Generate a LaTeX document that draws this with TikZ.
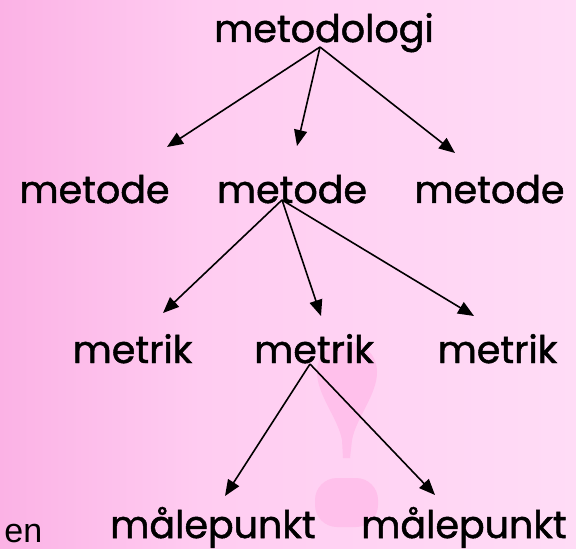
\documentclass[tikz,border=0pt]{standalone}
\usepackage{fontspec}
\setmainfont{Poppins}[FakeBold=1.3]
\newfontfamily\arialfont{Liberation Sans}
\usetikzlibrary{arrows.meta}
\definecolor{bgleft}{RGB}{251,178,229}
\definecolor{bgmid}{RGB}{255,204,241}
\definecolor{bgright}{RGB}{255,220,246}
\definecolor{bangpink}{RGB}{255,192,235}

\begin{document}
\begin{tikzpicture}[x=0.5pt,y=-0.5pt]
\tikzset{word/.style ={anchor=base, inner sep=0pt, font=\fontsize{19}{23}\selectfont}}
\tikzset{link/.style ={-{Triangle[length=8pt,width=6.5pt]}, line width=0.8pt}}
\useasboundingbox (0,0) rectangle (576,549);
\shade[left color=bgleft, right color=bgmid] (0,0) rectangle (200,549);
\shade[left color=bgmid, right color=bgright] (200,0) rectangle (576,549);
\fill[bangpink] (343,458) -- (342,440) .. controls (338,418) and (317,395) .. (317,372)
  .. controls (317,355) and (330,342) .. (347,342) .. controls (364,342) and (377,355) .. (377,372)
  .. controls (377,395) and (356,418) .. (352,440) -- (350,458) -- cycle;
\fill[bangpink, rounded corners=11pt] (315,478) rectangle (378,527);
\node[anchor=base west, inner sep=0pt, font=\arialfont\fontsize{17}{20}\selectfont] (en) at (4,542) {en};
\node[word] (metodologi) at (324,42) {metodologi};
\node[word] (metodeA) at (94.5,203) {metode};
\node[word] (metodeB) at (292,203) {metode};
\node[word] (metodeC) at (489.5,203) {metode};
\node[word] (metrikA) at (132.5,363) {metrik};
\node[word] (metrikB) at (314,363) {metrik};
\node[word] (metrikC) at (497.5,363) {metrik};
\node[word] (maalA) at (213,538) {målepunkt};
\node[word] (maalB) at (464,538) {målepunkt};
\coordinate (fromTop) at ([xshift=-2pt,yshift=-2.5pt]metodologi.base);
\coordinate (fromMetode) at ([xshift=-5pt,yshift=1.5pt]metodeB.base);
\coordinate (fromMetrik) at ([xshift=-2pt,yshift=-0.5pt]metrikB.base);
\coordinate (tipMetodeA) at (167,147);
\coordinate (tipMetodeB) at (297,146);
\coordinate (tipMetodeC) at (455,153);
\coordinate (tipMetrikA) at (163,313);
\coordinate (tipMetrikB) at (321,316);
\coordinate (tipMetrikC) at (474,316);
\coordinate (tipMaalA) at (225,496);
\coordinate (tipMaalB) at (435,495);
\draw[link] (fromTop) -- (tipMetodeA);
\draw[link] (fromTop) -- (tipMetodeB);
\draw[link] (fromTop) -- (tipMetodeC);
\draw[link] (fromMetode) -- (tipMetrikA);
\draw[link] (fromMetode) -- (tipMetrikB);
\draw[link] (fromMetode) -- (tipMetrikC);
\draw[link] (fromMetrik) -- (tipMaalA);
\draw[link] (fromMetrik) -- (tipMaalB);
\end{tikzpicture}
\end{document}
